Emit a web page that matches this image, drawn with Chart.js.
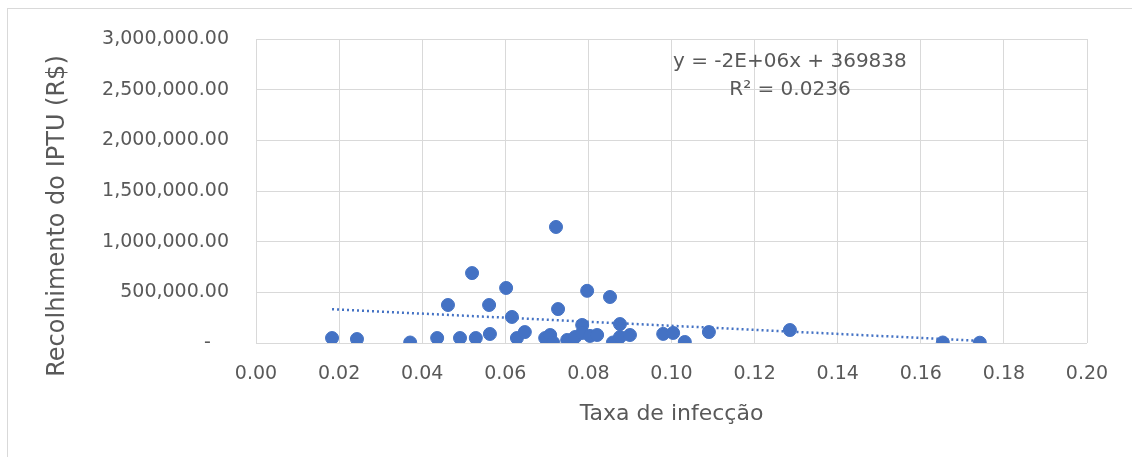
<!DOCTYPE html>
<html>
<head>
<meta charset="utf-8">
<script src="https://cdn.jsdelivr.net/npm/chart.js@4.4.1/dist/chart.umd.min.js"></script>
<style>
  html, body { margin: 0; padding: 0; background: #ffffff; overflow: hidden; }
  #wrap { position: relative; width: 1132px; height: 457px; }
  #frame { position: absolute; left: 7px; top: 8px; width: 1200px; height: 500px; border: 1px solid #d9d9d9; box-sizing: border-box; }
  #c { position: absolute; left: 0; top: 0; }
</style>
</head>
<body>
<div id="wrap">
  <div id="frame"></div>
  <canvas id="c" width="1132" height="457"></canvas>
</div>
<script>
// ---- Data ----
const infectionRate = [0.0183,0.0243,0.0371,0.0436,0.0462,0.0491,0.0520,0.0529,0.0561,0.0563,
  0.0602,0.0616,0.0628,0.0647,0.0696,0.0708,0.0715,0.0722,0.0727,0.0749,
  0.0768,0.0785,0.0785,0.0797,0.0804,0.0821,0.0852,0.0859,0.0876,0.0876,
  0.0900,0.0980,0.1004,0.1032,0.1090,0.1285,0.1653,0.1742];
const iptuRevenue = [49000,39000,5000,49000,375000,49000,690000,49000,375000,89000,
  543000,257000,49000,108000,49000,79000,5000,1145000,335000,30000,
  59000,178000,99000,515000,70000,79000,454000,5000,187000,59000,
  79000,90000,99000,10000,108000,128000,5000,3000];
// Linear trendline end points (as drawn in the reference)
const trendX = [0.0183, 0.1742];
const trendY = [333200, 21400];
// Trendline label
const equationLines = ['y = -2E+06x + 369838', 'R\u00B2 = 0.0236'];
const equationAnchorX = 0.1285;
const equationAnchorY = [2773000, 2497000];
// Axis ticks
const xTickMin = 0, xTickMax = 0.2, xTickStep = 0.02;
const yTickMin = 0, yTickMax = 3000000, yTickStep = 500000;
const xTitle = 'Taxa de infecção';
const yTitle = 'Recolhimento do IPTU (R$)';

const FONT = "'DejaVu Sans', sans-serif";
const TEXT = '#595959';
const GRID = '#d9d9d9';
const BLUE = '#4472c4';

const scatterPts = infectionRate.map((x, i) => ({ x: x, y: iptuRevenue[i] }));
const trendPts = trendX.map((x, i) => ({ x: x, y: trendY[i] }));

const textPlugin = {
  id: 'texts',
  afterDatasetsDraw(chart) {
    const ctx = chart.ctx;
    const xs = chart.scales.x, ys = chart.scales.y;
    ctx.save();
    ctx.fillStyle = TEXT;
    ctx.font = "20px " + FONT;
    ctx.textAlign = 'center';
    ctx.textBaseline = 'middle';
    equationLines.forEach((t, i) => {
      ctx.fillText(t, xs.getPixelForValue(equationAnchorX), ys.getPixelForValue(equationAnchorY[i]));
    });
    ctx.restore();
  },
  afterDraw(chart) {
    // vertical axis title (Excel places it slightly lower than the plot centre)
    const ctx = chart.ctx;
    ctx.save();
    ctx.fillStyle = TEXT;
    ctx.font = "24px " + FONT;
    ctx.textAlign = 'center';
    ctx.textBaseline = 'middle';
    ctx.translate(58, 216);
    ctx.rotate(-Math.PI / 2);
    ctx.fillText(yTitle, 0, 0);
    ctx.restore();
  }
};

new Chart(document.getElementById('c'), {
  type: 'scatter',
  data: {
    datasets: [
      {
        type: 'line',
        label: 'Trend',
        data: trendPts,
        borderColor: BLUE,
        borderWidth: 2.5,
        borderDash: [2, 3],
        pointRadius: 0,
        fill: false,
        order: 0
      },
      {
        label: 'IPTU',
        data: scatterPts,
        backgroundColor: BLUE,
        borderColor: BLUE,
        borderWidth: 1,
        pointRadius: 6.5,
        pointHoverRadius: 6.5,
        order: 1
      }
    ]
  },
  plugins: [textPlugin],
  options: {
    responsive: false,
    animation: false,
    layout: { padding: { left: 40, top: 39, right: 45, bottom: 30 } },
    plugins: { legend: { display: false }, tooltip: { enabled: false } },
    scales: {
      x: {
        type: 'linear',
        min: xTickMin, max: xTickMax,
        ticks: {
          stepSize: xTickStep,
          color: TEXT,
          font: { family: FONT, size: 19 },
          padding: 20,
          maxRotation: 0,
          callback: v => Number(v).toFixed(2)
        },
        grid: { color: GRID, lineWidth: 1, drawTicks: false },
        border: { display: false },
        title: { display: true, text: xTitle, color: TEXT, font: { family: FONT, size: 22 }, padding: { top: 0, bottom: 0 } },
        afterFit(s) { s.height = 84; s.paddingLeft = 0; s.paddingRight = 0; }
      },
      y: {
        type: 'linear',
        min: yTickMin, max: yTickMax,
        ticks: {
          stepSize: yTickStep,
          color: TEXT,
          font: { family: FONT, size: 19 },
          padding: 27,
          callback: v => v === 0 ? '-   ' : Number(v).toLocaleString('en-US', { minimumFractionDigits: 2, maximumFractionDigits: 2 })
        },
        grid: { color: GRID, lineWidth: 1, drawTicks: false },
        border: { display: false },
        title: { display: false },
        afterFit(s) { s.width = 216; s.paddingTop = 0; s.paddingBottom = 0; }
      }
    }
  }
});
</script>
</body>
</html>
